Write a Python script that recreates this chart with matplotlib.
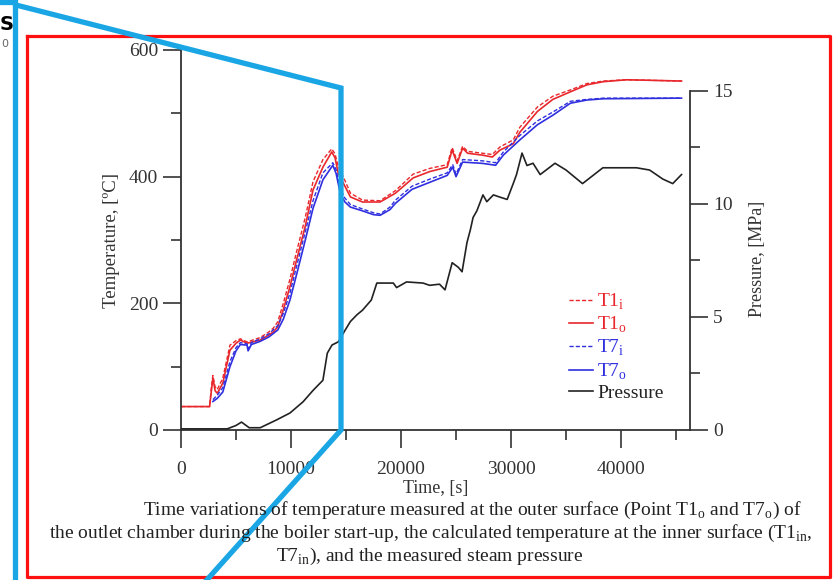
import matplotlib
matplotlib.use("Agg")
from matplotlib import pyplot as plt
from matplotlib.lines import Line2D
from matplotlib.ticker import MultipleLocator

plt.rcParams['font.family'] = ['Liberation Serif', 'DejaVu Serif']
plt.rcParams['mathtext.fontset'] = 'custom'
plt.rcParams['mathtext.rm'] = 'Liberation Serif'

# temperatures, outer surface (measured) and inner surface (calculated)
t_T1 = [0, 2600, 2750, 2900, 3100, 3300, 3800, 4450, 5000, 5400, 6000, 7200, 8000,
        8400, 8800, 9300, 9900, 10500, 11300, 12000, 12900, 13700, 14000, 14300,
        14900, 15400, 16500, 18100, 19500, 21100, 22600, 24200, 24650, 25100,
        25600, 26050, 27400, 28300, 29000, 30200, 30800, 32400, 33800, 35400,
        36900, 38400, 40500, 45500]
T1o = [37, 37, 60, 82, 62, 58, 74, 126, 137, 142, 137, 142, 150,
       155, 163, 190, 226, 268, 322, 379, 415, 439, 430, 405,
       385, 368, 360, 360, 374, 398, 408, 415, 442, 421,
       445, 437, 434, 431, 442, 452, 470, 503, 522, 534,
       545, 550, 553, 551]
T1i = [37, 37, 66, 86, 68, 64, 82, 134, 141, 144, 139, 146, 155,
       161, 171, 200, 238, 281, 336, 392, 427, 444, 436, 416,
       394, 374, 363, 362, 378, 404, 413, 419, 446, 425,
       448, 440, 437, 435, 447, 458, 478, 510, 527, 537,
       547, 551, 553, 551]

t_T7 = [2900, 3300, 3800, 4450, 5000, 5400, 6000, 6100, 6400, 7200, 8000, 8800,
        9300, 9900, 10500, 11300, 12000, 12900, 13800, 14100, 14500, 14900,
        15400, 16500, 17500, 18100, 19000, 19500, 21000, 22600, 24200, 24700,
        25000, 25600, 27400, 28600, 29300, 30800, 32400, 33800, 35400, 36900,
        38400, 45500]
T7o = [45, 50, 60, 100, 125, 135, 134, 125, 135, 140, 147, 158,
       175, 205, 245, 300, 350, 395, 418, 405, 372, 360,
       352, 346, 340, 339, 348, 358, 380, 391, 402, 415,
       400, 423, 421, 418, 434, 458, 482, 497, 516, 521,
       523, 524]
T7i = [48, 55, 67, 108, 130, 138, 136, 128, 138, 144, 152, 165,
       184, 216, 258, 313, 362, 406, 422, 411, 380, 366,
       356, 349, 343, 341, 352, 363, 385, 396, 406, 419,
       404, 427, 425, 422, 439, 465, 488, 502, 519, 522,
       524, 524]

# measured steam pressure
t_p = [0, 4200, 5000, 5500, 6200, 7200, 8700, 9900, 11100, 12000, 12900, 13300,
       13730, 14300, 14900, 15400, 16000, 16500, 17300, 17800, 19300, 19600,
       20500, 22000, 22600, 23500, 24000, 24650, 25200, 25550, 26000, 26300,
       26550, 26900, 27450, 27800, 28400, 29000, 29650, 30200, 30500, 31000,
       31450, 32000, 32650, 34000, 35000, 36500, 38350, 39900, 41400, 42600,
       43800, 44700, 45500]
P = [0.05, 0.05, 0.2, 0.35, 0.1, 0.1, 0.45, 0.75, 1.25, 1.75, 2.2, 3.4,
     3.76, 3.9, 4.4, 4.8, 5.1, 5.3, 5.75, 6.5, 6.5, 6.3,
     6.55, 6.5, 6.4, 6.45, 6.2, 7.4, 7.2, 7.0, 8.3, 8.85,
     9.4, 9.7, 10.4, 10.1, 10.4, 10.3, 10.2, 10.9, 11.3, 12.25,
     11.7, 11.8, 11.3, 11.8, 11.5, 10.9, 11.6, 11.6, 11.6, 11.5,
     11.1, 10.9, 11.3]

RED = '#e8282c'
BLUE = '#2f2fe0'
W, H = 833, 580

fig = plt.figure(figsize=(W / 100, H / 100), dpi=100)
ax = fig.add_axes([181 / W, 1 - 430 / H, 509 / W, 380 / H])
ax2 = ax.twinx()

l1, = ax.plot(t_T1, T1i, color=RED, lw=1.0, ls=(0, (3, 1.5)), label='T1$_\\mathregular{i}$')
l2, = ax.plot(t_T1, T1o, color=RED, lw=1.2, label='T1$_\\mathregular{o}$')
l3, = ax.plot(t_T7, T7i, color=BLUE, lw=1.0, ls=(0, (3, 1.5)), label='T7$_\\mathregular{i}$')
l4, = ax.plot(t_T7, T7o, color=BLUE, lw=1.2, label='T7$_\\mathregular{o}$')
l5, = ax2.plot(t_p, P, color='#222222', lw=1.2, label='Pressure')

ax.set_xlim(0, 46270)
ax.set_ylim(0, 600)
ax2.set_ylim(0, 16.81)

ax.xaxis.set_major_locator(MultipleLocator(10000))
ax.xaxis.set_minor_locator(MultipleLocator(5000))
ax.yaxis.set_major_locator(MultipleLocator(200))
ax.yaxis.set_minor_locator(MultipleLocator(100))
ax2.yaxis.set_major_locator(MultipleLocator(5))
ax2.yaxis.set_minor_locator(MultipleLocator(2.5))

for a in (ax, ax2):
    a.tick_params(which='major', direction='out', length=13, width=1.2,
                  color='#333333', labelsize=14, labelcolor='#333333')
    a.tick_params(which='minor', direction='out', length=7, width=1.2, color='#333333')
    for s in a.spines.values():
        s.set_color('#333333')
        s.set_linewidth(1.3)
ax.tick_params(axis='x', which='major', pad=9)
ax.spines['top'].set_visible(False)
ax.spines['right'].set_visible(False)
for s in ('top', 'left', 'bottom'):
    ax2.spines[s].set_visible(False)
ax2.spines['right'].set_bounds(0, 15)
ax2.set_yticks([0, 5, 10, 15])

ax.set_xlabel('Time, [s]', fontsize=13, color='#333333', labelpad=2)
ax.set_ylabel('Temperature, [ºC]', fontsize=13.5, color='#333333', labelpad=6)
ax2.set_ylabel('Pressure, [MPa]', fontsize=13, color='#333333', labelpad=8)
ax2.yaxis.set_label_coords(1.115, 0.45)

fig.legend(handles=[l1, l2, l3, l4, l5], loc='upper left',
           bbox_to_anchor=(559 / W, 1 - 282 / H), frameon=False, fontsize=14,
           handlelength=1.25, handletextpad=0.2, labelspacing=0.15,
           labelcolor='linecolor', borderpad=0)

cap = dict(fontsize=14, color='#222222', va='center')
fig.text(143 / W, 1 - 510 / H,
         'Time variations of temperature measured at the outer surface (Point T1$_\\mathregular{o}$ and T7$_\\mathregular{o}$) of',
         ha='left', **cap)
fig.text(431 / W, 1 - 533 / H,
         'the outlet chamber during the boiler start-up, the calculated temperature at the inner surface (T1$_\\mathregular{in}$,',
         ha='center', **cap)
fig.text(430 / W, 1 - 556 / H,
         'T7$_\\mathregular{in}$), and the measured steam pressure', ha='center', **cap)

# screenshot overlays (red frame, cyan zoom guides, cut-off text)
def px(x, y):
    return x / W, 1 - y / H

rx, ry = zip(px(27, 36), px(830, 36), px(830, 577), px(27, 577), px(27, 36))
fig.add_artist(Line2D(rx, ry, color='#ff1010', lw=2.3, transform=fig.transFigure))
cyan = '#1aa6e4'
for pts in ([(0, 2), (15.5, 2), (15.5, 580)],
            [(16, 5), (341, 88), (341, 430), (205, 582)]):
    xs, ys = zip(*[px(*p) for p in pts])
    fig.add_artist(Line2D(xs, ys, color=cyan, lw=3.8, transform=fig.transFigure,
                          solid_joinstyle='miter'))
fig.text(0.0, 1 - 25 / H, 'S', fontsize=14, fontweight='bold',
         family='DejaVu Sans', ha='left', va='center')
fig.text(0.001, 1 - 44 / H, '0', fontsize=8, color='#666666',
         family='DejaVu Sans', ha='left', va='center')

fig.savefig('out.png', dpi=100)
